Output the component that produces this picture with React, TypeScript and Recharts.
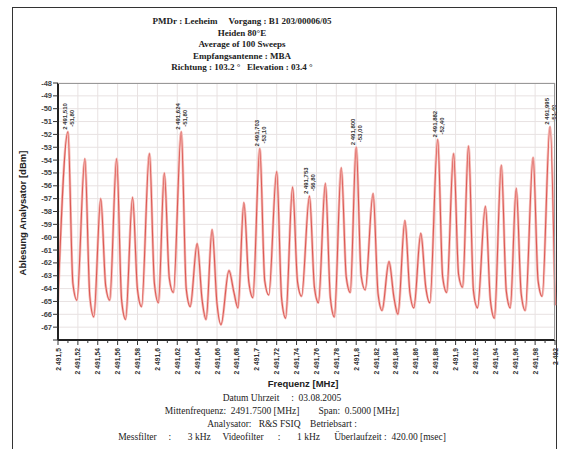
import { LineChart, Line, XAxis, YAxis, CartesianGrid, ReferenceDot } from 'recharts'

// Spectrum trace, read as peak / shoulder / trough points (MHz, dBm)
const PEAK_FREQ = [
  2491.510, 2491.527, 2491.543, 2491.559, 2491.575, 2491.592, 2491.607, 2491.624,
  2491.640, 2491.655, 2491.672, 2491.687, 2491.703, 2491.720, 2491.736, 2491.753,
  2491.769, 2491.785, 2491.800, 2491.817, 2491.833, 2491.849, 2491.865, 2491.882,
  2491.898, 2491.913, 2491.930, 2491.946, 2491.961, 2491.978, 2491.995,
]
const PEAK_LEVEL = [
  -51.8, -53.9, -57.0, -53.9, -56.9, -53.5, -55.0, -51.8,
  -60.5, -59.4, -62.6, -57.3, -53.1, -54.9, -56.1, -56.8,
  -55.8, -54.6, -53.0, -56.6, -61.9, -58.7, -59.7, -52.4,
  -53.5, -52.9, -57.6, -54.4, -56.2, -53.8, -51.4,
]
const SHOULDER_FREQ = [
  2491.515, 2491.532, 2491.548, 2491.564, 2491.580, 2491.597, 2491.612, 2491.629,
  2491.645, 2491.660, 2491.677, 2491.692, 2491.708, 2491.725, 2491.741, 2491.758,
  2491.774, 2491.790, 2491.805, 2491.822, 2491.838, 2491.854, 2491.870, 2491.887,
  2491.903, 2491.918, 2491.935, 2491.951, 2491.966, 2491.983,
]
const SHOULDER_LEVEL = [
  -63.6, -64.6, -63.8, -64.9, -64.1, -63.6, -63.2, -64.0,
  -64.9, -65.2, -64.3, -63.5, -63.4, -64.8, -63.5, -63.9,
  -64.7, -63.1, -63.0, -64.4, -64.7, -64.3, -63.9, -63.1,
  -62.9, -64.2, -64.9, -64.2, -64.4, -63.4,
]
const TROUGH_FREQ = [
  2491.519, 2491.536, 2491.552, 2491.568, 2491.584, 2491.601, 2491.616, 2491.633,
  2491.649, 2491.664, 2491.681, 2491.696, 2491.712, 2491.729, 2491.745, 2491.762,
  2491.778, 2491.794, 2491.809, 2491.826, 2491.842, 2491.858, 2491.874, 2491.891,
  2491.907, 2491.922, 2491.939, 2491.955, 2491.970, 2491.987,
]
const TROUGH_LEVEL = [
  -64.9, -66.2, -64.9, -66.4, -65.4, -65.1, -64.3, -65.4,
  -66.4, -66.8, -65.5, -64.7, -64.5, -66.3, -64.6, -65.1,
  -66.2, -64.3, -64.1, -65.7, -66.0, -65.5, -65.1, -64.3,
  -63.9, -65.5, -66.3, -65.5, -65.7, -64.6,
]
const EDGE_FREQ = [2491.5, 2492.0]
const EDGE_LEVEL = [-64.9, -65.3]

// peaks that carry a marker label
const MARKED_PEAKS = [0, 7, 12, 15, 18, 23, 30]

const X_TICKS = [
  2491.5, 2491.52, 2491.54, 2491.56, 2491.58, 2491.6, 2491.62, 2491.64, 2491.66,
  2491.68, 2491.7, 2491.72, 2491.74, 2491.76, 2491.78, 2491.8, 2491.82, 2491.84,
  2491.86, 2491.88, 2491.9, 2491.92, 2491.94, 2491.96, 2491.98, 2492.0,
]
const X_TICK_LABELS = [
  '2 491,5', '2 491,52', '2 491,54', '2 491,56', '2 491,58', '2 491,6', '2 491,62',
  '2 491,64', '2 491,66', '2 491,68', '2 491,7', '2 491,72', '2 491,74', '2 491,76',
  '2 491,78', '2 491,8', '2 491,82', '2 491,84', '2 491,86', '2 491,88', '2 491,9',
  '2 491,92', '2 491,94', '2 491,96', '2 491,98', '2 492',
]
const Y_TICKS = [
  -68, -67, -66, -65, -64, -63, -62, -61, -60, -59, -58,
  -57, -56, -55, -54, -53, -52, -51, -50, -49, -48,
]

const TITLE_LINES = [
  'PMDr : Leeheim     Vorgang : B1 203/00006/05',
  'Heiden 80°E',
  'Average of 100 Sweeps',
  'Empfangsantenne : MBA',
  'Richtung : 103.2 °   Elevation : 03.4 °',
]
const FOOTER_LINES = [
  'Datum Uhrzeit     :  03.08.2005',
  'Mittenfrequenz:  2491.7500 [MHz]        Span:  0.5000 [MHz]',
  'Analysator:   R&S FSIQ    Betriebsart :',
  'Messfilter     :       3 kHz     Videofilter      :       1 kHz      Überlaufzeit :  420.00 [msec]',
]

const MINOR_X_TICKS = X_TICKS.slice(1).map((v, i) => (v + X_TICKS[i]) / 2)
const ALL_X_TICKS = [...X_TICKS, ...MINOR_X_TICKS].sort((a, b) => a - b)

const trace = [
  ...PEAK_FREQ.map((f, i) => ({ f, level: PEAK_LEVEL[i] })),
  ...SHOULDER_FREQ.map((f, i) => ({ f, level: SHOULDER_LEVEL[i] })),
  ...TROUGH_FREQ.map((f, i) => ({ f, level: TROUGH_LEVEL[i] })),
  ...EDGE_FREQ.map((f, i) => ({ f, level: EDGE_LEVEL[i] })),
].sort((a, b) => a.f - b.f)

const fmtFreq = (f: number) => '2 ' + f.toFixed(3).slice(1).replace('.', ',')
const fmtLevel = (v: number) => v.toFixed(2).replace('.', ',')

const SANS = '"Liberation Sans", Arial, sans-serif'
const SERIF = '"Liberation Serif", "Times New Roman", serif'

function FreqTick({ x, y, payload }: any) {
  const i = X_TICKS.indexOf(payload.value)
  const major = i >= 0
  return (
    <g>
      <line x1={x} x2={x} y1={y} y2={y + (major ? 5 : 3)} stroke="#333" strokeWidth={1} />
      {major && (
        <text
          transform={`translate(${x},${y + 8}) rotate(-90)`}
          textAnchor="end"
          dominantBaseline="central"
          fontSize={6.8}
          fontFamily={SANS}
          fontWeight="bold"
          fill="#333"
        >
          {X_TICK_LABELS[i]}
        </text>
      )}
    </g>
  )
}

function LevelTick({ x, y, payload }: any) {
  return (
    <g>
      <line x1={x - 5} x2={x} y1={y} y2={y} stroke="#333" strokeWidth={1} />
      {payload.value !== -68 && (
        <text
          x={x - 6}
          y={y}
          textAnchor="end"
          dominantBaseline="central"
          fontSize={7.5}
          fontFamily={SANS}
          fontWeight="bold"
          fill="#444"
        >
          {payload.value}
        </text>
      )}
    </g>
  )
}

function PeakMarker({ cx, cy, f, level }: any) {
  return (
    <g fontFamily={SANS} fontSize={6} fill="#333" fontWeight="bold">
      <text transform={`translate(${cx - 3},${cy - 2}) rotate(-90)`} textAnchor="start" dominantBaseline="central">
        {fmtFreq(f)}
      </text>
      <text transform={`translate(${cx + 4},${cy - 5}) rotate(-90)`} textAnchor="start" dominantBaseline="central">
        {fmtLevel(level)}
      </text>
    </g>
  )
}

export default function App() {
  return (
    <div style={{ position: 'absolute', left: 0, top: 0, width: 570, height: 449, overflow: 'hidden', background: '#fff' }}>
      <div
        style={{
          position: 'absolute', left: 12, top: 7, width: 545, height: 450,
          border: '1.5px solid #333', boxSizing: 'border-box',
        }}
      />
      <div
        style={{
          position: 'absolute', left: 0, top: 16, width: 484, textAlign: 'center',
          fontFamily: SERIF, fontWeight: 'bold', fontSize: 9, lineHeight: '11.5px',
          whiteSpace: 'pre', color: '#222',
        }}
      >
        {TITLE_LINES.map((t) => <div key={t}>{t}</div>)}
      </div>

      <div style={{ position: 'absolute', left: 0, top: 0 }}>
        <LineChart
          width={570}
          height={449}
          data={trace}
          margin={{ top: 83, right: 15, bottom: 69, left: 28 }}
        >
          <CartesianGrid stroke="#e8e2e2" verticalValues={X_TICKS} />
          <XAxis
            dataKey="f"
            type="number"
            domain={[2491.5, 2492.0]}
            ticks={ALL_X_TICKS}
            interval={0}
            height={40}
            tickSize={0}
            tickMargin={0}
            tickLine={false}
            tick={<FreqTick />}
            axisLine={{ stroke: '#222', strokeWidth: 2 }}
          />
          <YAxis
            type="number"
            domain={[-68, -48]}
            ticks={Y_TICKS}
            interval={0}
            width={30}
            tickSize={0}
            tickMargin={0}
            tickLine={false}
            tick={<LevelTick />}
            axisLine={{ stroke: '#222', strokeWidth: 2 }}
          />
          <Line
            dataKey="level"
            type="monotone"
            stroke="#f4bcb8"
            strokeWidth={2.6}
            dot={false}
            isAnimationActive={false}
          />
          <Line
            dataKey="level"
            type="monotone"
            stroke="#dc5a55"
            strokeWidth={1.1}
            dot={false}
            isAnimationActive={false}
          />
          {MARKED_PEAKS.map((i) => (
            <ReferenceDot
              key={i}
              x={PEAK_FREQ[i]}
              y={PEAK_LEVEL[i]}
              r={0}
              ifOverflow="visible"
              shape={(p: any) => <PeakMarker {...p} f={PEAK_FREQ[i]} level={PEAK_LEVEL[i]} />}
            />
          ))}
        </LineChart>
      </div>

      {/* plot frame top and right */}
      <div
        style={{
          position: 'absolute', left: 58, top: 83, width: 497, height: 257,
          borderTop: '1px solid #999', borderRight: '1px solid #999', boxSizing: 'border-box',
        }}
      />

      <div
        style={{
          position: 'absolute', left: 22, top: 213, transform: 'translate(-50%, -50%) rotate(-90deg)',
          fontFamily: SANS, fontWeight: 'bold', fontSize: 9.5, whiteSpace: 'nowrap', color: '#222',
        }}
      >
        Ablesung Analysator [dBm]
      </div>
      <div
        style={{
          position: 'absolute', left: 203, top: 378, width: 200, textAlign: 'center',
          fontFamily: SANS, fontWeight: 'bold', fontSize: 9.5, color: '#222',
        }}
      >
        Frequenz [MHz]
      </div>
      <div
        style={{
          position: 'absolute', left: 0, top: 392, width: 564, textAlign: 'center',
          fontFamily: SERIF, fontSize: 9.5, lineHeight: '13px', whiteSpace: 'pre', color: '#222',
        }}
      >
        {FOOTER_LINES.map((t) => <div key={t}>{t}</div>)}
      </div>
    </div>
  )
}
